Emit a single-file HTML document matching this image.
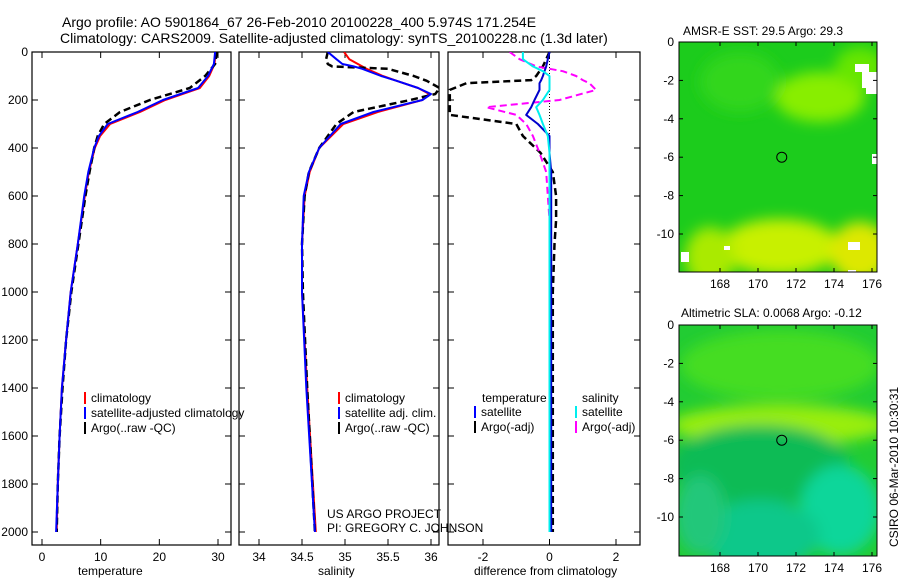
<!DOCTYPE html>
<html><head><meta charset="utf-8"><style>
html,body{margin:0;padding:0;background:#fff;}
svg{display:block;font-family:"Liberation Sans",sans-serif;}
text{font-size:12px;fill:#000;}
</style></head><body>
<svg id="chart" width="900" height="580" viewBox="0 0 900 580">
<defs>
<clipPath id="c1"><rect x="32" y="52" width="199" height="493"/></clipPath>
<clipPath id="c2"><rect x="239" y="52" width="200" height="493"/></clipPath>
<clipPath id="c3"><rect x="448" y="52" width="192" height="493"/></clipPath>
<clipPath id="m1"><rect x="679" y="42" width="198" height="230"/></clipPath>
<clipPath id="m2"><rect x="679" y="325" width="198" height="231"/></clipPath>
<filter id="bl" x="-50%" y="-50%" width="200%" height="200%"><feGaussianBlur stdDeviation="7"/></filter>
</defs>
<text x="62" y="27" style="font-size:14px">Argo profile: AO 5901864_67 26-Feb-2010 20100228_400 5.974S 171.254E</text>
<text x="60" y="43" style="font-size:14px">Climatology: CARS2009. Satellite-adjusted climatology: synTS_20100228.nc (1.3d later)</text>
<g id="panels"></g>
<g id="maps"></g>
<text x="78" y="575">temperature</text>
<text x="318" y="575">salinity</text>
<text x="474" y="575">difference from climatology</text>
<text x="327" y="518">US ARGO PROJECT</text>
<text x="327" y="532">PI: GREGORY C. JOHNSON</text>
<text x="683" y="35">AMSR-E SST: 29.5 Argo: 29.3</text>
<text x="681" y="317">Altimetric SLA: 0.0068 Argo: -0.12</text>
<text transform="translate(898,547) rotate(-90)">CSIRO 06-Mar-2010 10:30:31</text>
</svg>
<script>
// ---- data ----
const depthT = [0,50,100,150,200,250,300,350,400,500,600,800,1000,1200,1400,1600,1800,2000];
const tempClim = [29.6,29.4,28.5,26.9,21.0,16.7,11.6,9.9,9.0,8.0,7.3,6.1,4.9,4.1,3.4,3.0,2.7,2.5];
const tempSat  = [29.5,29.3,28.3,26.6,20.6,16.3,11.2,9.7,8.9,7.9,7.2,6.1,4.9,4.1,3.4,3.0,2.7,2.4];
const tempArgo = [29.8,29.5,27.8,25.2,18.4,13.3,10.6,9.5,8.9,8.1,7.4,6.2,5.0,4.1,3.5,3.0,2.7,2.5];
const depthS = [0,30,50,60,70,100,120,150,175,200,250,300,400,500,600,800,1000,1400,2000];
const salClim = [34.99,35.05,35.15,35.2,35.25,35.44,35.6,35.85,35.98,35.9,35.38,34.98,34.7,34.59,34.53,34.5,34.5,34.56,34.66];
const salSat  = [34.8,34.9,34.97,35.1,35.2,35.42,35.6,35.85,36.0,35.9,35.33,34.95,34.7,34.58,34.52,34.5,34.5,34.55,34.65];
const salArgo = [34.8,34.78,34.8,34.85,35.5,35.8,35.95,36.1,36.05,35.76,35.1,34.9,34.7,34.58,34.53,34.5,34.51,34.56,34.65];
const depthD = [0,30,60,80,100,117,130,158,200,230,262,300,350,420,500,600,700,800,1000,1400,2000];
const dTempSat  = [0,-0.05,-0.1,-0.15,-0.2,-0.25,-0.3,-0.3,-0.45,-0.55,-0.7,-0.35,0,0,0.05,0.05,0.05,0.05,0.05,0.05,0.05];
const dSalSat   = [-0.8,-0.8,-0.5,-0.2,0,0,0,0,-0.2,-0.4,-0.3,-0.2,-0.05,0,0,0,0,0,0,0,0];
const dTempArgo = [0,-0.1,-0.2,-0.3,-0.4,-0.55,-2.5,-3,-3,-3,-3,-1,-0.8,-0.27,0.1,0.2,0.2,0.15,0.1,0.1,0.1];
const dSalArgo  = [-1.2,-0.9,-0.4,0.4,0.8,1.0,1.2,1.4,0.3,-1.9,-1.0,-0.7,-0.5,-0.3,-0.1,-0.05,0,0,0,0,0.0];
const tTicks=[0,10,20,30], sTicks=[34,34.5,35,35.5,36], dTicks=[-2,0,2], zTicks=[0,200,400,600,800,1000,1200,1400,1600,1800,2000];
const lonTicks=[168,170,172,174,176], latTicks=[0,-2,-4,-6,-8,-10];
// ---- helpers ----
const NS="http://www.w3.org/2000/svg";
const P=document.getElementById('panels');
function mk(tag,at,par){const e=document.createElementNS(NS,tag);for(const k in at)e.setAttribute(k,at[k]);(par||P).appendChild(e);return e;}
const yD=d=>52+d*0.24;
function lin(a0,p0,a1,p1){return v=>p0+(v-a0)*(p1-p0)/(a1-a0);}
const xT=lin(0,42,30,218), xS=lin(34,259,36,431), xDf=lin(-2,483,2,616);
function panel(x0,x1,xs,ticks,name,showY){
  const r=mk('rect',{x:x0,y:52,width:x1-x0,height:493,fill:'none',stroke:'#000','stroke-width':1.2});
  
  
  ticks.forEach(t=>{const x=xs(t);
    mk('line',{x1:x,x2:x,y1:545,y2:539,stroke:'#000'});mk('line',{x1:x,x2:x,y1:52,y2:58,stroke:'#000'});
    const tx=mk('text',{x:x,y:561,'text-anchor':'middle'});tx.textContent=t;
    
    });
  zTicks.forEach(z=>{const y=yD(z);
    mk('line',{x1:x0,x2:x0+6,y1:y,y2:y,stroke:'#000'});mk('line',{x1:x1,x2:x1-6,y1:y,y2:y,stroke:'#000'});
    if(showY){const tx=mk('text',{x:28,y:y+4,'text-anchor':'end'});tx.textContent=z;
      
      }});
}
function line(ds,vs,xs,color,w,dash,clip,name){
  const pts=ds.map((d,i)=>xs(vs[i]).toFixed(1)+','+yD(d).toFixed(1)).join(' ');
  const a={points:pts,fill:'none',stroke:color,'stroke-width':w,'clip-path':'url(#'+clip+')','stroke-linejoin':'round'};
  if(dash)a['stroke-dasharray']=dash;
  const e=mk('polyline',a);
  
  
}
function legend(x,y,items,name){
  items.forEach((it,i)=>{mk('rect',{x:x,y:y+i*15-10,width:2,height:12,fill:it[1]});
    const t=mk('text',{x:x+7,y:y+i*15});t.textContent=it[0];
    
    });
}
panel(32,231,xT,tTicks,'temperature-panel',true);
panel(239,439,xS,sTicks,'salinity-panel',false);
panel(448,640,xDf,dTicks,'difference-panel',false);
line(depthT,tempClim,xT,'#f00',2,null,'c1','temp-climatology-line');
line(depthT,tempArgo,xT,'#000',2.5,'7,4','c1','temp-argo-line');
line(depthT,tempSat,xT,'#00f',2,null,'c1','temp-satellite-line');
line(depthS,salClim,xS,'#f00',2,null,'c2','sal-climatology-line');
line(depthS,salArgo,xS,'#000',2.5,'7,4','c2','sal-argo-line');
line(depthS,salSat,xS,'#00f',2,null,'c2','sal-satellite-line');
mk('line',{x1:xDf(0),x2:xDf(0),y1:52,y2:yD(2000),stroke:'#000','stroke-dasharray':'1,2'});
line(depthD,dTempArgo,xDf,'#000',2.5,'7,4','c3','diff-temp-argo-line');
line(depthD,dSalArgo,xDf,'#f0f',2,'7,4','c3','diff-sal-argo-line');
line(depthD,dTempSat,xDf,'#00c',2,null,'c3','diff-temp-satellite-line');
line(depthD,dSalSat,xDf,'#0ee',2,null,'c3','diff-sal-satellite-line');
legend(84,402,[['climatology','#f00'],['satellite-adjusted climatology','#00f'],['Argo(..raw -QC)','#000']],'temp-legend');
legend(338,402,[['climatology','#f00'],['satellite adj. clim.','#00f'],['Argo(..raw -QC)','#000']],'sal-legend');
const th=mk('text',{x:482,y:402});th.textContent='temperature';


const sh=mk('text',{x:582,y:402});sh.textContent='salinity';


legend(474,416,[['satellite','#00f'],['Argo(-adj)','#000']],'diff-temp-legend');
legend(575,416,[['satellite','#0ee'],['Argo(-adj)','#f0f']],'diff-sal-legend');
// ---- maps ----
const M=document.getElementById('maps');
function map(y0,h,base,blobs,holes,clip,name){
  const g=mk('g',{'clip-path':'url(#'+clip+')'},M);
  
  
  mk('rect',{x:679,y:y0,width:198,height:h,fill:base},g);
  const gb=mk('g',{filter:'url(#bl)'},g);
  blobs.forEach(b=>mk('ellipse',{cx:b[0],cy:y0+b[1],rx:b[2],ry:b[3],fill:b[4]},gb));
  holes.forEach(b=>mk('rect',{x:b[0],y:y0+b[1],width:b[2],height:b[3],fill:'#fff'},g));
  const xl=lin(168,720,176,872), yl=v=>y0-v*19.2;
  mk('rect',{x:679,y:y0,width:198,height:h,fill:'none',stroke:'#000'},M);
  lonTicks.forEach(l=>{const x=xl(l);mk('line',{x1:x,x2:x,y1:y0+h,y2:y0+h-4,stroke:'#000'},M);mk('line',{x1:x,x2:x,y1:y0,y2:y0+4,stroke:'#000'},M);
    const t=mk('text',{x:x,y:y0+h+16,'text-anchor':'middle'},M);t.textContent=l;
    
    });
  latTicks.forEach(l=>{const y=yl(l);mk('line',{x1:679,x2:683,y1:y,y2:y,stroke:'#000'},M);mk('line',{x1:877,x2:873,y1:y,y2:y,stroke:'#000'},M);
    const t=mk('text',{x:674,y:y+4,'text-anchor':'end'},M);t.textContent=l;
    
    });
  const c=mk('circle',{cx:xl(171.25),cy:yl(-6),r:5,fill:'none',stroke:'#000'},M);
  
  
}
map(42,230,'#1ccc1c',[[820,55,45,25,'#88ee00'],[860,25,25,20,'#66e600'],[780,205,60,28,'#c8f000'],[860,210,30,30,'#dde800'],[710,215,25,30,'#aaea00'],[740,40,40,30,'#33d61a']],
  [[855,22,14,8],[862,30,15,16],[866,46,11,6],[872,112,5,10],[681,210,8,10],[724,204,6,4],[848,200,12,8],[848,228,8,12]],'m1','sst-map');
map(325,231,'#22cc33',[[780,40,100,35,'#44dd22'],[780,100,110,20,'#99ee11'],[760,140,90,40,'#11bb55'],[840,185,40,45,'#11d69a'],[760,210,60,35,'#11c88a'],[700,190,25,40,'#22c77a']],[],'m2','sla-map');
</script>
</body></html>
